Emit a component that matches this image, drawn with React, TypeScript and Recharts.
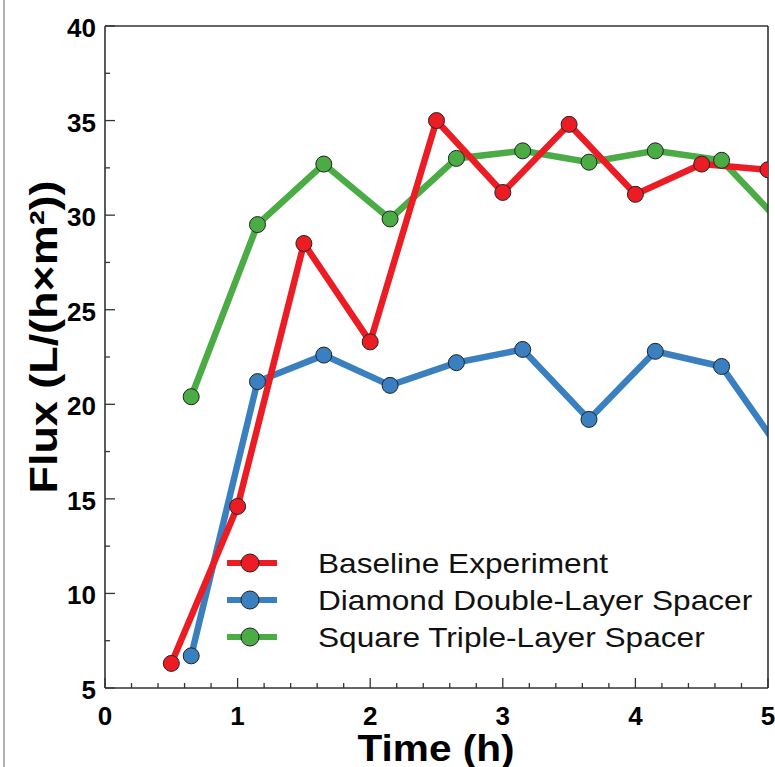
import React from "react";
import { LineChart, Line, XAxis, YAxis, Legend } from "recharts";

// time points (h)
const baselineTime = [0.5, 1, 1.5, 2, 2.5, 3, 3.5, 4, 4.5, 5];
const spacerTime = [0.65, 1.15, 1.65, 2.15, 2.65, 3.15, 3.65, 4.15, 4.65, 5.15];

// flux values, L/(h×m²)
const baselineFlux = [6.3, 14.6, 28.5, 23.3, 35.0, 31.2, 34.8, 31.1, 32.7, 32.4];
const diamondFlux = [6.7, 21.2, 22.6, 21.0, 22.2, 22.9, 19.2, 22.8, 22.0, 17.0];
const squareFlux = [20.4, 29.5, 32.7, 29.8, 33.0, 33.4, 32.8, 33.4, 32.9, 29.2];

const seriesNames = ["Baseline Experiment", "Diamond Double-Layer Spacer", "Square Triple-Layer Spacer"];
const seriesColors = ["#ec1c24", "#3a7fc0", "#4bab45"];

const xTicks = [
  0, 0.2, 0.4, 0.6, 0.8, 1, 1.2, 1.4, 1.6, 1.8, 2, 2.2, 2.4, 2.6, 2.8,
  3, 3.2, 3.4, 3.6, 3.8, 4, 4.2, 4.4, 4.6, 4.8, 5,
];
const yTicks = [5, 7.5, 10, 12.5, 15, 17.5, 20, 22.5, 25, 27.5, 30, 32.5, 35, 37.5, 40];

const toPoints = (xs: number[], ys: number[]) => xs.map((t, i) => ({ t, flux: ys[i] }));

const baselineData = toPoints(baselineTime, baselineFlux);
const diamondData = toPoints(spacerTime, diamondFlux);
const squareData = toPoints(spacerTime, squareFlux);

const FONT = "'Liberation Sans', Arial, sans-serif";
const AXIS = "#333";

function BottomTick(props: any) {
  const { x, y, payload } = props;
  const major = Number.isInteger(payload.value);
  return (
    <g>
      <line x1={x} y1={y} x2={x} y2={y - (major ? 10 : 5)} stroke={AXIS} strokeWidth={1.3} />
      {major && (
        <text x={x} y={y + 37} textAnchor="middle" fontFamily={FONT} fontWeight="bold" fontSize={26} fill="#000">
          {payload.value}
        </text>
      )}
    </g>
  );
}

function TopTick(props: any) {
  const { x, y, payload } = props;
  const major = Number.isInteger(payload.value);
  return <line x1={x} y1={y} x2={x} y2={y + (major ? 9 : 5)} stroke={AXIS} strokeWidth={1.3} />;
}

function LeftTick(props: any) {
  const { x, y, payload } = props;
  const major = payload.value % 5 === 0;
  return (
    <g>
      <line x1={x} y1={y} x2={x + (major ? 10 : 5)} y2={y} stroke={AXIS} strokeWidth={1.3} />
      {major && (
        <text x={x - 9} y={y + 11} textAnchor="end" fontFamily={FONT} fontWeight="bold" fontSize={26} fill="#000">
          {payload.value}
        </text>
      )}
    </g>
  );
}

function RightTick(props: any) {
  const { x, y, payload } = props;
  const major = payload.value % 5 === 0;
  return <line x1={x} y1={y} x2={x - (major ? 10 : 6)} y2={y} stroke={AXIS} strokeWidth={1.3} />;
}

function renderLegend(props: any) {
  const items = [...(props.payload || [])].sort(
    (a: any, b: any) => seriesNames.indexOf(a.value) - seriesNames.indexOf(b.value)
  );
  return (
    <svg width={560} height={120}>
      {items.map((item: any, i: number) => {
        const cy = 23 + i * 37;
        return (
          <g key={item.value}>
            <line x1={15} y1={cy} x2={65} y2={cy} stroke={item.color} strokeWidth={6} />
            <circle cx={38} cy={cy} r={9} fill={item.color} stroke="#222" strokeWidth={1} />
            <text
              x={106}
              y={cy + 10}
              fontFamily={FONT}
              fontSize={28}
              fill="#111"
              transform={`translate(106 0) scale(1.13 1) translate(-106 0)`}
            >
              {item.value}
            </text>
          </g>
        );
      })}
    </svg>
  );
}

export default function App() {
  return (
    <div style={{ position: "absolute", left: 0, top: 0, width: 775, height: 767, background: "#fff", overflow: "hidden" }}>
      <div style={{ position: "absolute", left: 3, top: 0, width: 2, height: 767, background: "#b0b0b0" }} />
      <LineChart width={775} height={767} margin={{ top: 25, right: 6, bottom: 39, left: 45 }}>
        <XAxis
          type="number"
          dataKey="t"
          domain={[0, 5]}
          ticks={xTicks}
          interval={0}
          allowDataOverflow
          height={40}
          tickSize={0}
          tickMargin={0}
          tickLine={false}
          axisLine={{ stroke: AXIS, strokeWidth: 1.6 }}
          tick={<BottomTick />}
        />
        <XAxis
          xAxisId="top"
          orientation="top"
          type="number"
          dataKey="t"
          domain={[0, 5]}
          ticks={xTicks}
          interval={0}
          height={1}
          tickSize={0}
          tickMargin={0}
          tickLine={false}
          axisLine={{ stroke: AXIS, strokeWidth: 1.6 }}
          tick={<TopTick />}
        />
        <YAxis
          type="number"
          domain={[5, 40]}
          ticks={yTicks}
          interval={0}
          allowDataOverflow
          width={60}
          tickSize={0}
          tickMargin={0}
          tickLine={false}
          axisLine={{ stroke: AXIS, strokeWidth: 1.6 }}
          tick={<LeftTick />}
        />
        <YAxis
          yAxisId="right"
          orientation="right"
          type="number"
          domain={[5, 40]}
          ticks={yTicks}
          interval={0}
          width={1}
          tickSize={0}
          tickMargin={0}
          tickLine={false}
          axisLine={{ stroke: AXIS, strokeWidth: 1.6 }}
          tick={<RightTick />}
        />
        <Legend
          layout="vertical"
          align="center"
          verticalAlign="middle"
          wrapperStyle={{ left: 212, top: 540, width: 560, height: 120 }}
          content={renderLegend}
        />
        <Line
          data={diamondData}
          dataKey="flux"
          name={seriesNames[1]}
          stroke={seriesColors[1]}
          strokeWidth={6.5}
          type="linear"
          dot={{ r: 8, fill: seriesColors[1], stroke: "#222", strokeWidth: 1 }}
          isAnimationActive={false}
        />
        <Line
          data={squareData}
          dataKey="flux"
          name={seriesNames[2]}
          stroke={seriesColors[2]}
          strokeWidth={6.5}
          type="linear"
          dot={{ r: 8, fill: seriesColors[2], stroke: "#222", strokeWidth: 1 }}
          isAnimationActive={false}
        />
        <Line
          data={baselineData}
          dataKey="flux"
          name={seriesNames[0]}
          stroke={seriesColors[0]}
          strokeWidth={6.5}
          type="linear"
          dot={{ r: 8, fill: seriesColors[0], stroke: "#222", strokeWidth: 1 }}
          isAnimationActive={false}
        />
      </LineChart>
      <svg style={{ position: "absolute", left: 0, top: 0, pointerEvents: "none" }} width={775} height={767}>
        <text
          x={57}
          y={337}
          transform="rotate(-90 57 337)"
          textAnchor="middle"
          fontFamily={FONT}
          fontWeight="bold"
          fontSize={38}
          textLength={313}
          lengthAdjust="spacingAndGlyphs"
          fill="#000"
        >
          Flux (L/(h×m²))
        </text>
        <text
          x={436}
          y={761}
          textAnchor="middle"
          fontFamily={FONT}
          fontWeight="bold"
          fontSize={36}
          textLength={157}
          lengthAdjust="spacingAndGlyphs"
          fill="#000"
        >
          Time (h)
        </text>
      </svg>
    </div>
  );
}
